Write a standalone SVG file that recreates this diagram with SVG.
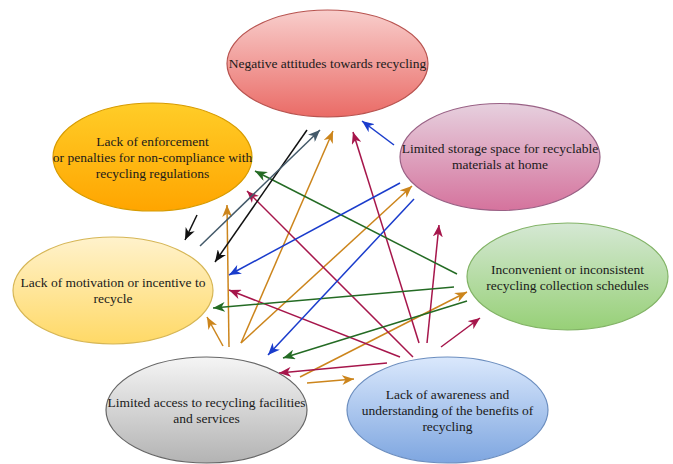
<svg xmlns="http://www.w3.org/2000/svg" width="673" height="464" viewBox="0 0 673 464">
  <defs>
    <style>
      .node ellipse { stroke-width: 1.2; }
      .label { font-family: "Liberation Serif", "Times New Roman", serif; font-size: 13.5px; fill: #1a1a1a; text-anchor: middle; }
      .edge { fill: none; stroke-width: 1.5; }
      .orange { stroke: #cc851c; marker-end: url(#headOrange); }
      .crimson { stroke: #a6164b; marker-end: url(#headCrimson); }
      .green { stroke: #246b24; marker-end: url(#headGreen); }
      .blue { stroke: #1a3ccc; marker-end: url(#headBlue); }
      .black { stroke: #111111; marker-end: url(#headBlack); }
      .slate { stroke: #445a6a; marker-end: url(#headSlate); }
    </style>
    <linearGradient id="gRed" x1="0" y1="0" x2="0" y2="1"><stop offset="0" stop-color="#f8cecc"/><stop offset="1" stop-color="#ea6b66"/></linearGradient>
    <linearGradient id="gOrange" x1="0" y1="0" x2="0" y2="1"><stop offset="0" stop-color="#ffcd28"/><stop offset="1" stop-color="#ffa500"/></linearGradient>
    <linearGradient id="gPink" x1="0" y1="0" x2="0" y2="1"><stop offset="0" stop-color="#e6d0de"/><stop offset="1" stop-color="#d5739d"/></linearGradient>
    <linearGradient id="gYellow" x1="0" y1="0" x2="0" y2="1"><stop offset="0" stop-color="#fff2cc"/><stop offset="1" stop-color="#ffd966"/></linearGradient>
    <linearGradient id="gGrey" x1="0" y1="0" x2="0" y2="1"><stop offset="0" stop-color="#f5f5f5"/><stop offset="1" stop-color="#b3b3b3"/></linearGradient>
    <linearGradient id="gGreen" x1="0" y1="0" x2="0" y2="1"><stop offset="0" stop-color="#d5e8d4"/><stop offset="1" stop-color="#97d077"/></linearGradient>
    <linearGradient id="gBlue" x1="0" y1="0" x2="0" y2="1"><stop offset="0" stop-color="#dae8fc"/><stop offset="1" stop-color="#7ea6e0"/></linearGradient>
    <marker id="headOrange" viewBox="0 0 12 10" markerWidth="12" markerHeight="10" refX="12" refY="5" orient="auto" markerUnits="userSpaceOnUse"><path d="M0,0 L12,5 L0,10 L3.5,5 Z" fill="#cc851c"/></marker>
    <marker id="headCrimson" viewBox="0 0 12 10" markerWidth="12" markerHeight="10" refX="12" refY="5" orient="auto" markerUnits="userSpaceOnUse"><path d="M0,0 L12,5 L0,10 L3.5,5 Z" fill="#a6164b"/></marker>
    <marker id="headGreen" viewBox="0 0 12 10" markerWidth="12" markerHeight="10" refX="12" refY="5" orient="auto" markerUnits="userSpaceOnUse"><path d="M0,0 L12,5 L0,10 L3.5,5 Z" fill="#246b24"/></marker>
    <marker id="headBlue" viewBox="0 0 12 10" markerWidth="12" markerHeight="10" refX="12" refY="5" orient="auto" markerUnits="userSpaceOnUse"><path d="M0,0 L12,5 L0,10 L3.5,5 Z" fill="#1a3ccc"/></marker>
    <marker id="headBlack" viewBox="0 0 12 10" markerWidth="12" markerHeight="10" refX="12" refY="5" orient="auto" markerUnits="userSpaceOnUse"><path d="M0,0 L12,5 L0,10 L3.5,5 Z" fill="#111111"/></marker>
    <marker id="headSlate" viewBox="0 0 12 10" markerWidth="12" markerHeight="10" refX="12" refY="5" orient="auto" markerUnits="userSpaceOnUse"><path d="M0,0 L12,5 L0,10 L3.5,5 Z" fill="#445a6a"/></marker>
  </defs>

  <rect width="673" height="464" fill="#ffffff"/>

  <!-- nodes -->
  <g font-family="Liberation Serif, Times New Roman, serif">
  <g id="negative-attitudes" class="node">
    <ellipse cx="327.5" cy="63.5" rx="100.5" ry="53.5" fill="url(#gRed)" stroke="#b85450"/>
    <text class="label" x="327.5" y="68">Negative attitudes towards recycling</text>
  </g>
  <g id="lack-of-enforcement" class="node">
    <ellipse cx="152.5" cy="157" rx="99.5" ry="54" fill="url(#gOrange)" stroke="#d79b00"/>
    <text class="label" x="152.5" y="146">Lack of enforcement</text>
    <text class="label" x="152.5" y="162">or penalties for non-compliance with</text>
    <text class="label" x="152.5" y="178">recycling regulations</text>
  </g>
  <g id="limited-storage" class="node">
    <ellipse cx="500" cy="157" rx="100" ry="53.5" fill="url(#gPink)" stroke="#996185"/>
    <text class="label" x="500" y="153">Limited storage space for recyclable</text>
    <text class="label" x="500" y="169">materials at home</text>
  </g>
  <g id="lack-of-motivation" class="node">
    <ellipse cx="113" cy="290.5" rx="100" ry="53.5" fill="url(#gYellow)" stroke="#d6b656"/>
    <text class="label" x="113" y="287">Lack of motivation or incentive to</text>
    <text class="label" x="113" y="303">recycle</text>
  </g>
  <g id="inconvenient-collection" class="node">
    <ellipse cx="567.5" cy="276.5" rx="100.5" ry="53.5" fill="url(#gGreen)" stroke="#82b366"/>
    <text class="label" x="567.5" y="274">Inconvenient or inconsistent</text>
    <text class="label" x="567.5" y="290">recycling collection schedules</text>
  </g>
  <g id="limited-access" class="node">
    <ellipse cx="206.5" cy="410" rx="100.5" ry="53" fill="url(#gGrey)" stroke="#666666"/>
    <text class="label" x="206.5" y="407">Limited access to recycling facilities</text>
    <text class="label" x="206.5" y="423">and services</text>
  </g>
  <g id="lack-of-awareness" class="node">
    <ellipse cx="447.5" cy="410" rx="100.5" ry="53" fill="url(#gBlue)" stroke="#6c8ebf"/>
    <text class="label" x="447.5" y="399">Lack of awareness and</text>
    <text class="label" x="447.5" y="415">understanding of the benefits of</text>
    <text class="label" x="447.5" y="431">recycling</text>
  </g>
  </g>

  <!-- connectors -->
  <g id="connectors">
    <!-- from limited access -->
    <line class="edge orange" x1="241" y1="343" x2="333" y2="131"/>
    <line class="edge orange" x1="229" y1="347" x2="227" y2="205"/>
    <line class="edge orange" x1="223" y1="346" x2="207" y2="317"/>
    <line class="edge orange" x1="241" y1="343" x2="412" y2="186"/>
    <line class="edge orange" x1="300" y1="377" x2="467" y2="292"/>
    <line class="edge orange" x1="307" y1="383" x2="354" y2="379"/>
    <!-- from lack of awareness -->
    <line class="edge crimson" x1="419" y1="343" x2="353" y2="132"/>
    <line class="edge crimson" x1="427" y1="343" x2="439" y2="225"/>
    <line class="edge crimson" x1="441" y1="347" x2="480" y2="318"/>
    <line class="edge crimson" x1="413" y1="357" x2="247" y2="191"/>
    <line class="edge crimson" x1="400" y1="357" x2="229" y2="290"/>
    <line class="edge crimson" x1="387" y1="363" x2="279" y2="373"/>
    <!-- from inconvenient collection -->
    <line class="edge green" x1="457" y1="274" x2="255" y2="171"/>
    <line class="edge green" x1="454" y1="287" x2="213" y2="308"/>
    <line class="edge green" x1="467" y1="301" x2="283" y2="358"/>
    <!-- from limited storage -->
    <line class="edge blue" x1="394" y1="145" x2="362" y2="121"/>
    <line class="edge blue" x1="400" y1="183" x2="229" y2="275"/>
    <line class="edge blue" x1="414" y1="199" x2="268" y2="355"/>
    <!-- between negative attitudes and lack of motivation -->
    <line class="edge black" x1="197" y1="215" x2="185" y2="240"/>
    <line class="edge black" x1="307" y1="130" x2="215" y2="262"/>
    <line class="edge slate" x1="200" y1="246" x2="320" y2="130"/>
  </g>
</svg>
